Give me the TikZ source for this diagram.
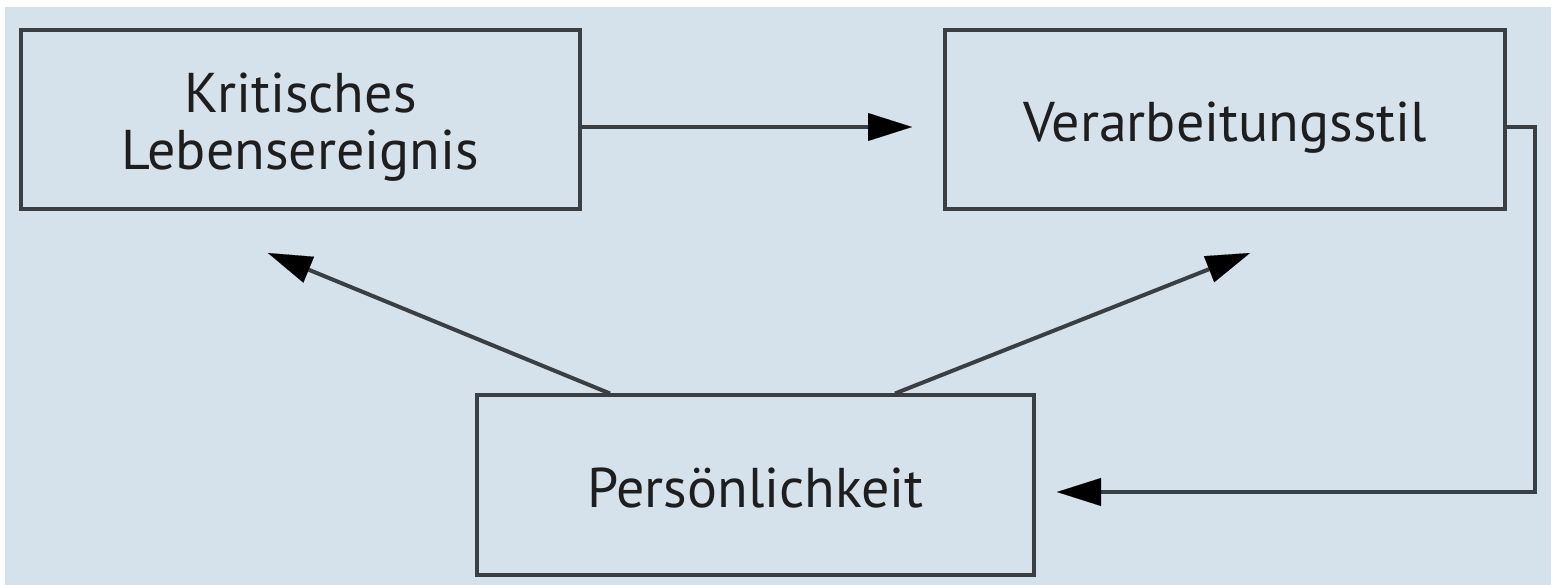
\documentclass[tikz,border=0pt]{standalone}
\usepackage{fontspec}
\setmainfont{PT Sans}
\usetikzlibrary{arrows.meta}
\definecolor{bg}{HTML}{D6E2EB}
\definecolor{ln}{HTML}{3A3F44}
\definecolor{tx}{HTML}{1E1E1E}
\tikzset{
  box/.style={draw=ln, line width=4pt, fill=bg, minimum width=#1, minimum height=179pt, inner sep=0pt},
  txt/.style={inner sep=0pt, align=center, text=tx, font=\fontsize{56}{57}\selectfont},
  conn/.style={draw=ln, line width=4pt, -{Triangle[length=44pt,width=28pt,color=black,line width=0.1pt]}},
}
\begin{document}
\begin{tikzpicture}[x=1pt,y=-1pt]
\useasboundingbox (0,0) rectangle (1551,585);
\fill[white] (0,0) rectangle (1551,585);
\fill[bg] (5,7) rectangle (1551,585);
\node[box=559pt] (k) at (300.5,119.5) {};
\node[box=560pt] (v) at (1225,119.5) {};
\node[box=557pt] (p) at (755.5,485) {};
\node[txt] (kt) at ([yshift=-8pt]k.center) {Kritisches\\Lebensereignis};
\node[txt] (vt) at ([yshift=-8pt]v.center) {Verarbeitungsstil};
\node[txt] (pt) at ([yshift=-3pt]p.center) {Persönlichkeit};
\coordinate (a1) at (912,127);
\coordinate (a2) at (268,253);
\coordinate (a3) at (1250,253);
\coordinate (a4) at (1057,492);
\coordinate (c1) at (1535,127);
\coordinate (c2) at (1535,492);
\draw[conn] (k.east |- a1) -- (a1);
\draw[conn] (p.north west) ++(135,0) coordinate (p1) -- (a2);
\draw[conn] (p.north west) ++(420,0) coordinate (p2) -- (a3);
\draw[conn] (v.east |- c1) -- (c1) -- (c2) -- (a4);
\end{tikzpicture}
\end{document}
